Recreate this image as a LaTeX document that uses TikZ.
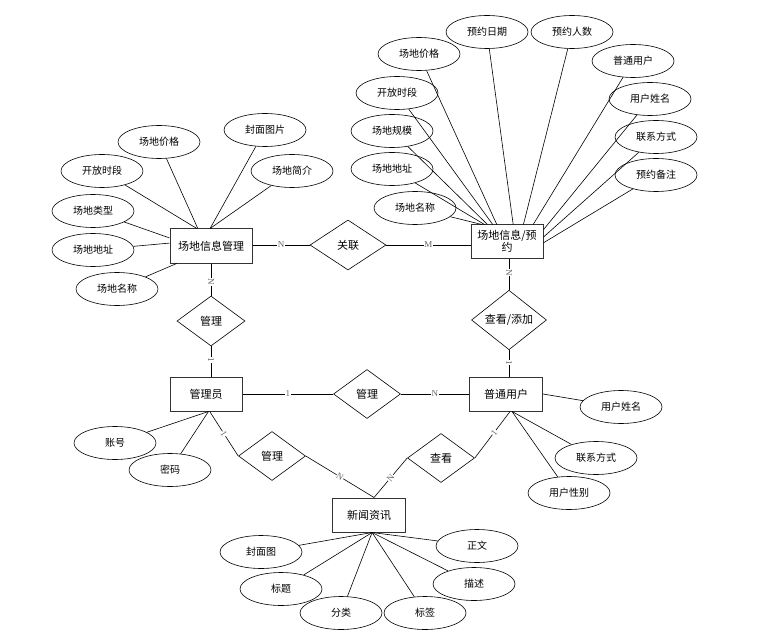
\documentclass[tikz,border=0pt]{standalone}
\usepackage{fontspec}
\setmainfont{Noto Sans CJK SC}
\newfontfamily\labfont{Liberation Serif}
\usetikzlibrary{shapes.geometric}
\begin{document}
\begin{tikzpicture}[x=1pt,y=-1pt,
  ent/.style={draw=black!80,line width=1pt,rectangle,minimum width=73pt,minimum height=34pt,inner sep=1pt,font=\fontsize{11}{13}\selectfont,fill=white},
  rel/.style={draw,line width=0.6pt,diamond,minimum width=68pt,minimum height=50pt,inner sep=0pt,font=\fontsize{11}{13}\selectfont},
  attr/.style={draw,line width=0.6pt,ellipse,minimum width=82pt,minimum height=33pt,inner sep=0pt,font=\fontsize{10}{12}\selectfont,fill=white},
  conn/.style={line width=0.6pt},
  card/.style={font=\labfont\fontsize{9}{9}\selectfont,text=black!60,fill=white,inner sep=0.5pt,sloped},
]
\useasboundingbox (0,0) rectangle (770,644);

% entities
\node[ent,minimum width=82pt] (A) at (211,246) {场地信息管理};
\node[ent,minimum width=72pt,minimum height=33pt,align=center,font=\fontsize{11}{12}\selectfont] (B) at (507,241.5) {场地信息/预\\约};
\node[ent,minimum width=72pt] (C) at (206,394) {管理员};
\node[ent] (D) at (506,394) {普通用户};
\node[ent] (E) at (369,515) {新闻资讯};

% relationships
\node[rel,minimum width=76pt] (R1) at (348,245) {关联};
\node[rel] (R2) at (211,321) {管理};
\node[rel,minimum width=75pt,minimum height=49pt] (R3) at (509,320) {查看/添加};
\node[rel,minimum width=67pt,minimum height=49pt] (R4) at (367,394) {管理};
\node[rel,minimum width=67pt,minimum height=49pt] (R5) at (272,456) {管理};
\node[rel,minimum width=67pt,minimum height=49pt] (R6) at (441,458) {查看};

% attributes of A
\node[attr] (a1) at (159,142) {场地价格};
\node[attr] (a2) at (265,130) {封面图片};
\node[attr] (a3) at (102,171) {开放时段};
\node[attr] (a4) at (292,171) {场地简介};
\node[attr] (a5) at (93,211) {场地类型};
\node[attr] (a6) at (93,250) {场地地址};
\node[attr] (a7) at (117,289) {场地名称};

% attributes of B
\node[attr] (b1) at (487,32) {预约日期};
\node[attr] (b2) at (572,32) {预约人数};
\node[attr] (b3) at (419,54) {场地价格};
\node[attr] (b4) at (633,61) {普通用户};
\node[attr] (b5) at (397,93) {开放时段};
\node[attr] (b6) at (650,99) {用户姓名};
\node[attr] (b7) at (392,131) {场地规模};
\node[attr] (b8) at (656,137) {联系方式};
\node[attr] (b9) at (392,169) {场地地址};
\node[attr] (b10) at (656,175) {预约备注};
\node[attr] (b11) at (415,208) {场地名称};

% attributes of C
\node[attr] (c1) at (115,443) {账号};
\node[attr] (c2) at (170,470) {密码};

% attributes of D
\node[attr] (d1) at (621,407) {用户姓名};
\node[attr] (d2) at (596,458) {联系方式};
\node[attr] (d3) at (569,493) {用户性别};

% attributes of E
\node[attr] (e1) at (261,552) {封面图};
\node[attr] (e2) at (281,589) {标题};
\node[attr] (e3) at (341,613) {分类};
\node[attr] (e4) at (425,613) {标签};
\node[attr] (e5) at (474,584) {描述};
\node[attr] (e6) at (477,546) {正文};

% attribute connectors
\begin{scope}[conn]
\draw (A.127) -- (a1);
\draw (A.93) -- (a2);
\draw (A.129) -- (a3);
\draw (A.93) -- (a4);
\draw (A.169) -- (a5);
\draw (A.176) -- (a6);
\draw (A.207) -- (a7);

\draw (B.70) -- (b1);
\draw (B.46) -- (b2);
\draw (B.121) -- (b3);
\draw (B.33) -- (b4);
\draw (B.130) -- (b5);
\draw (B.18) -- (b6);
\draw (B.139) -- (b7);
\draw (B.7) -- (b8);
\draw (B.143) -- (b9);
\draw (B.-2) -- (b10);
\draw (B.146.6) -- (b11);

\draw (C.-82) -- (c1);
\draw (C.-82) -- (c2);

\draw (D.east) -- (d1);
\draw (D.-71) -- (d2);
\draw (D.-71) -- (d3);

\draw (E.-80) -- (e1);
\draw (E.-80) -- (e2);
\draw (E.-80) -- (e3);
\draw (E.-80) -- (e4);
\draw (E.-80) -- (e5);
\draw (E.-80) -- (e6);
\end{scope}

% relationship connectors
\begin{scope}[conn]
\draw (A.east |- R1.west) -- node[card] {N} (R1.west);
\draw (R1.east) -- node[card] {M} (B.west |- R1.east);
\draw (A.south -| R2.north) -- node[card,pos=0.58] {N} (R2.north);
\draw (R2.south) -- node[card,pos=0.45] {1} (C.north -| R2.south);
\draw (B.south -| R3.north) -- node[card,pos=0.45] {N} (R3.north);
\draw (R3.south) -- node[card,pos=0.47] {1} (D.north -| R3.south);
\draw (C.east |- R4.west) -- node[card] {1} (R4.west);
\draw (R4.east) -- node[card] {N} (D.west |- R4.east);
\draw (C.-78) -- node[card] {1} (R5.west);
\draw (R5.east) -- node[card] {N} (E.74);
\draw (E.74) -- node[card] {N} (R6.west);
\draw (R6.east) -- node[card,pos=0.55] {1} (D.-77);
\end{scope}
\end{tikzpicture}
\end{document}
